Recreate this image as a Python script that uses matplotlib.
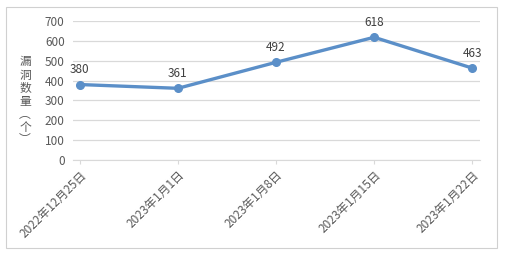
import matplotlib
matplotlib.use('Agg')
import matplotlib.pyplot as plt
from matplotlib.patches import Rectangle

plt.rcParams['font.family'] = ['Noto Sans CJK SC', 'DejaVu Sans']

# data
dates = ['2022年12月25日', '2023年1月1日', '2023年1月8日', '2023年1月15日', '2023年1月22日']
counts = [380, 361, 492, 618, 463]
yticks = [0, 100, 200, 300, 400, 500, 600, 700]
ylabel = '漏洞数量︵个︶'

W, H = 509, 254
fig = plt.figure(figsize=(W / 100, H / 100), dpi=100)
fig.patch.set_facecolor('white')

# outer frame of the chart
fig.patches.append(Rectangle((6 / W, 1 - 248 / H), 491 / W, 241 / H,
                             transform=fig.transFigure, fill=False,
                             edgecolor='#d0d0d0', linewidth=0.8))

ax = fig.add_axes([73 / W, 1 - 160 / H, 407 / W, 139 / H])
x = list(range(len(dates)))
ax.plot(x, counts, color='#5b8fc8', linewidth=2.4, marker='o', markersize=5.5,
        solid_capstyle='round', zorder=3)

for xi, v in zip(x, counts):
    ax.annotate(str(v), (xi, v), xytext=(0, 6), textcoords='offset points',
                ha='center', va='bottom', fontsize=8.5, color='#404040')

ax.set_ylim(0, 700)
ax.set_xlim(-0.07, 4.08)
ax.set_yticks(yticks)
ax.set_yticklabels([str(t) for t in yticks], fontsize=8.5, color='#595959')
ax.set_xticks(x)
ax.set_xticklabels(dates, rotation=45, ha='right', rotation_mode='anchor',
                   fontsize=8.5, color='#595959')
ax.tick_params(axis='y', length=0, pad=6)
ax.tick_params(axis='x', length=3, color='#d9d9d9', pad=3)
ax.grid(axis='y', color='#d9d9d9', linewidth=0.9)
ax.set_axisbelow(True)
for s in ['top', 'right', 'left']:
    ax.spines[s].set_visible(False)
ax.spines['bottom'].set_color('#d9d9d9')

# vertical axis title, one character per row
for i, ch in enumerate(ylabel):
    fig.text(25 / W, 1 - (62 + i * 13) / H, ch, ha='center', va='center',
             fontsize=8.5, color='#595959')

fig.savefig('out.png', dpi=100)
